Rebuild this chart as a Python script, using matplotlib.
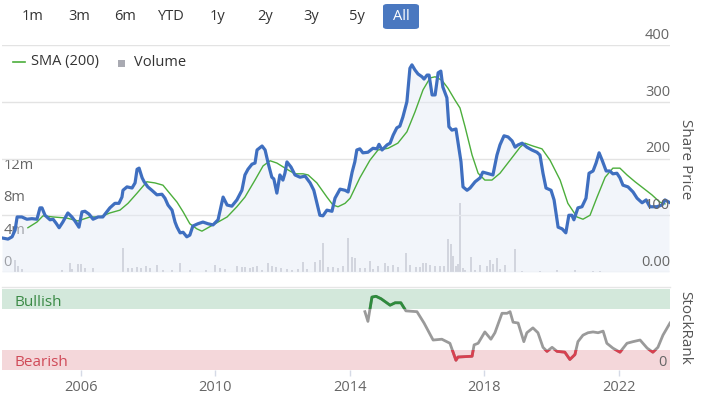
import numpy as np
import matplotlib
matplotlib.use('Agg')
import matplotlib.pyplot as plt
from matplotlib.patches import Rectangle, FancyBboxPatch
from matplotlib.lines import Line2D

plt.rcParams['font.family'] = ['Open Sans', 'DejaVu Sans']

# share price (blue line)
price_years = [2003.65, 2003.83, 2003.95, 2004.04, 2004.10, 2004.24, 2004.39, 2004.54, 2004.69, 2004.78,
               2004.84, 2004.93, 2005.08, 2005.17, 2005.26, 2005.35, 2005.46, 2005.61, 2005.73, 2005.82,
               2005.94, 2006.03, 2006.12, 2006.24, 2006.36, 2006.51, 2006.65, 2006.77, 2006.86, 2007.01,
               2007.13, 2007.22, 2007.25, 2007.37, 2007.52, 2007.61, 2007.67, 2007.73, 2007.82, 2007.88,
               2007.99, 2008.11, 2008.26, 2008.41, 2008.50, 2008.59, 2008.71, 2008.80, 2008.86, 2008.95,
               2009.04, 2009.15, 2009.24, 2009.33, 2009.48, 2009.63, 2009.78, 2009.93, 2010.08, 2010.23,
               2010.35, 2010.49, 2010.64, 2010.79, 2010.88, 2010.97, 2011.09, 2011.18, 2011.24, 2011.39,
               2011.48, 2011.57, 2011.68, 2011.74, 2011.83, 2011.92, 2012.01, 2012.07, 2012.13, 2012.25,
               2012.37, 2012.52, 2012.67, 2012.82, 2012.93, 2013.02, 2013.11, 2013.20, 2013.32, 2013.47,
               2013.56, 2013.71, 2013.86, 2013.95, 2014.07, 2014.15, 2014.21, 2014.30, 2014.39, 2014.54,
               2014.69, 2014.81, 2014.87, 2014.96, 2015.11, 2015.20, 2015.29, 2015.40, 2015.49, 2015.58,
               2015.70, 2015.79, 2015.85, 2015.94, 2016.03, 2016.15, 2016.21, 2016.30, 2016.36, 2016.45,
               2016.54, 2016.63, 2016.71, 2016.77, 2016.89, 2016.95, 2017.04, 2017.16, 2017.22, 2017.31,
               2017.37, 2017.49, 2017.58, 2017.73, 2017.88, 2017.96, 2018.08, 2018.26, 2018.38, 2018.47,
               2018.59, 2018.71, 2018.83, 2018.92, 2019.01, 2019.13, 2019.27, 2019.42, 2019.57, 2019.66,
               2019.75, 2019.84, 2019.99, 2020.08, 2020.20, 2020.32, 2020.43, 2020.52, 2020.61, 2020.67,
               2020.79, 2020.91, 2021.03, 2021.12, 2021.24, 2021.33, 2021.42, 2021.51, 2021.63, 2021.74,
               2021.83, 2021.95, 2022.04, 2022.13, 2022.28, 2022.43, 2022.55, 2022.70, 2022.82, 2022.93,
               2023.14, 2023.29, 2023.38, 2023.50]
price_values = [60, 58, 62, 74, 97, 97, 93, 94, 93, 113,
                113, 100, 92, 93, 86, 78, 88, 104, 97, 90,
                79, 106, 107, 102, 93, 97, 97, 106, 113, 121,
                121, 132, 144, 150, 148, 157, 181, 183, 166, 159,
                150, 144, 136, 137, 130, 118, 109, 88, 79, 69,
                70, 62, 65, 81, 85, 88, 85, 83, 92, 132,
                118, 116, 127, 144, 171, 181, 190, 192, 215, 222,
                215, 192, 167, 164, 139, 171, 162, 174, 194, 185,
                171, 167, 169, 157, 144, 122, 100, 99, 109, 107,
                130, 146, 144, 141, 176, 194, 215, 217, 210, 211,
                218, 217, 225, 215, 224, 227, 241, 254, 257, 273,
                300, 359, 365, 356, 349, 344, 340, 347, 347, 312,
                312, 351, 354, 326, 307, 256, 250, 252, 229, 194,
                150, 144, 148, 159, 166, 176, 174, 171, 206, 224,
                240, 238, 231, 220, 224, 227, 220, 215, 211, 206,
                174, 148, 144, 127, 79, 76, 69, 100, 100, 92,
                113, 115, 130, 174, 178, 192, 210, 197, 178, 178,
                173, 174, 166, 153, 150, 141, 130, 122, 127, 115,
                115, 118, 127, 123]

# 200-day moving average (green line)
sma_years = [2004.42, 2004.69, 2004.87, 2005.17, 2005.58, 2005.91, 2006.27, 2006.57, 2006.86, 2007.16,
             2007.40, 2007.67, 2007.96, 2008.20, 2008.44, 2008.65, 2008.86, 2009.04, 2009.24, 2009.45,
             2009.60, 2009.93, 2010.35, 2010.64, 2010.88, 2011.18, 2011.42, 2011.63, 2011.83, 2012.13,
             2012.37, 2012.61, 2012.76, 2013.02, 2013.32, 2013.50, 2013.65, 2013.86, 2014.01, 2014.30,
             2014.60, 2014.84, 2015.14, 2015.43, 2015.70, 2015.94, 2016.18, 2016.39, 2016.54, 2016.74,
             2016.92, 2017.13, 2017.28, 2017.43, 2017.64, 2017.82, 2018.02, 2018.23, 2018.47, 2018.77,
             2019.07, 2019.21, 2019.45, 2019.72, 2019.96, 2020.26, 2020.49, 2020.76, 2020.94, 2021.15,
             2021.36, 2021.60, 2021.83, 2022.04, 2022.25, 2022.49, 2022.73, 2022.99, 2023.23, 2023.38]
sma_values = [78, 88, 99, 97, 95, 90, 97, 97, 104, 109,
              121, 139, 159, 157, 153, 138, 123, 106, 85, 76,
              72, 83, 97, 115, 132, 162, 187, 196, 192, 181,
              173, 173, 171, 157, 132, 118, 115, 121, 130, 166,
              197, 215, 218, 227, 247, 282, 321, 342, 344, 338,
              324, 303, 289, 256, 206, 174, 162, 162, 174, 197,
              220, 227, 222, 217, 197, 162, 121, 97, 93, 100,
              132, 167, 183, 183, 171, 159, 148, 136, 123, 120]

# volume bars, millions of shares
vol_years = [2004.04, 2004.13, 2004.24, 2005.43, 2005.67, 2005.73, 2005.91, 2006.00, 2006.12, 2006.36,
             2007.25, 2007.40, 2007.52, 2007.67, 2007.79, 2007.93, 2008.05, 2008.26, 2008.44, 2008.71,
             2008.95, 2009.24, 2009.72, 2009.99, 2010.14, 2010.29, 2010.64, 2010.79, 2010.88, 2011.03,
             2011.12, 2011.24, 2011.39, 2011.57, 2011.68, 2011.80, 2011.95, 2012.13, 2012.28, 2012.46,
             2012.61, 2012.73, 2012.96, 2013.11, 2013.20, 2013.35, 2013.50, 2013.65, 2013.80, 2013.95,
             2014.07, 2014.15, 2014.30, 2014.45, 2014.60, 2014.69, 2014.84, 2015.05, 2015.14, 2015.29,
             2015.43, 2015.67, 2015.79, 2015.97, 2016.09, 2016.18, 2016.27, 2016.39, 2016.54, 2016.68,
             2016.80, 2016.92, 2017.01, 2017.07, 2017.16, 2017.22, 2017.28, 2017.37, 2017.43, 2017.61,
             2017.73, 2017.88, 2018.08, 2018.17, 2018.26, 2018.38, 2018.47, 2018.62, 2018.92, 2019.13,
             2019.66, 2020.17, 2020.70, 2021.24, 2021.45]
vol_millions = [1.45, 0.8, 0.4, 0.3, 1.1, 0.4, 1.0, 1.0, 0.5, 0.5,
                3.0, 0.5, 0.5, 0.6, 0.5, 0.8, 0.5, 0.9, 0.3, 0.3,
                1.1, 0.3, 0.3, 0.9, 0.5, 0.4, 0.8, 0.6, 0.6, 0.5,
                0.6, 0.8, 0.3, 1.1, 0.8, 0.6, 0.5, 0.4, 0.3, 0.4,
                1.2, 0.4, 1.2, 1.5, 3.6, 0.6, 0.6, 0.5, 0.7, 4.2,
                1.8, 1.7, 0.5, 0.5, 1.3, 0.4, 0.8, 1.1, 0.8, 0.9,
                0.6, 2.3, 0.9, 0.6, 0.6, 1.1, 1.1, 0.9, 0.8, 0.7,
                0.7, 4.1, 3.5, 2.0, 0.8, 1.0, 8.6, 0.5, 0.3, 1.8,
                0.3, 0.9, 0.8, 1.5, 1.0, 1.7, 0.4, 0.9, 2.8, 0.15,
                0.15, 0.2, 0.2, 0.15, 0.15]

# StockRank (0-100)
rank_years = [2014.45, 2014.54, 2014.66, 2014.78, 2014.93, 2015.20, 2015.35, 2015.52, 2015.67, 2016.00,
              2016.21, 2016.48, 2016.74, 2016.98, 2017.16, 2017.22, 2017.64, 2017.70, 2017.82, 2018.02,
              2018.20, 2018.32, 2018.53, 2018.68, 2018.77, 2018.86, 2019.01, 2019.18, 2019.27, 2019.45,
              2019.60, 2019.75, 2019.87, 2020.02, 2020.17, 2020.40, 2020.55, 2020.70, 2020.79, 2020.94,
              2021.09, 2021.24, 2021.39, 2021.54, 2021.65, 2021.83, 2022.04, 2022.25, 2022.43, 2022.64,
              2022.85, 2023.02, 2023.17, 2023.32, 2023.53]
rank_values = [72, 60, 90, 91, 88, 80, 83, 83, 73, 72,
               58, 37, 38, 33, 12, 16, 17, 31, 33, 47,
               38, 46, 70, 70, 72, 59, 58, 35, 46, 52,
               46, 28, 23, 28, 23, 22, 13, 19, 35, 43,
               46, 47, 46, 48, 33, 27, 22, 33, 35, 37,
               27, 22, 28, 43, 58]

range_buttons = ['1m', '3m', '6m', 'YTD', '1y', '2y', '3y', '5y', 'All']
price_ticks = [0, 100, 200, 300, 400]
price_labels = ['0.00', '100', '200', '300', '400']
vol_ticks = [0, 4, 8, 12]
vol_labels = ['0', '4m', '8m', '12m']
year_ticks = [2006, 2010, 2014, 2018, 2022]

W, H = 703, 394
fig = plt.figure(figsize=(W / 100, H / 100), dpi=100)


def box(l, t, r, b):
    return [l / W, 1 - b / H, (r - l) / W, (b - t) / H]


def ftext(x, y, s, **kw):
    return fig.text(x / W, 1 - y / H, s, **kw)


x0, x1 = 2003.65, 2023.53
label_col = '#666666'

# range selector
btn_x = [33, 79, 125, 171, 218, 265, 311, 357, 401]
for name, bx in zip(range_buttons, btn_x):
    if name == 'All':
        fig.patches.append(FancyBboxPatch(((bx - 18) / W, 1 - 29 / H), 36 / W, 25 / H,
                                          boxstyle='round,pad=0,rounding_size=0.006',
                                          transform=fig.transFigure, fc='#4a78c0', ec='none'))
        ftext(bx, 16, name, ha='center', va='center', color='white', fontsize=10.5)
    else:
        ftext(bx, 16, name, ha='center', va='center', color='#333333', fontsize=10.5)

# main price panel with volume underneath
axv = fig.add_axes(box(2, 45, 670, 272))
ax = fig.add_axes(box(2, 45, 670, 272))
ax.set_zorder(axv.get_zorder() + 1)
ax.patch.set_visible(False)

axv.set_xlim(x0, x1)
axv.set_ylim(0, 28.1)
axv.bar(vol_years, vol_millions, width=0.07, color='#c4c5cc', lw=0)
for v, lab in zip(vol_ticks, vol_labels):
    axv.annotate(lab, (0, v), xycoords=('axes fraction', 'data'), xytext=(1, 1.5),
                 textcoords='offset points', ha='left', va='bottom', color=label_col, fontsize=10.5)

ax.set_xlim(x0, x1)
ax.set_ylim(0, 400)
for t, lab in zip(price_ticks, price_labels):
    ax.axhline(t, color='#e3e3e3', lw=1, zorder=0)
    ax.annotate(lab, (1, t), xycoords=('axes fraction', 'data'), xytext=(0, 1.5),
                textcoords='offset points', ha='right', va='bottom', color=label_col, fontsize=10.5)
ax.fill_between(price_years, price_values, 0, color='#e4eaf6', alpha=0.45, lw=0)
ax.plot(sma_years, sma_values, color='#4cae3c', lw=1)
ax.plot(price_years, price_values, color='#3f6fc0', lw=2.3, solid_joinstyle='round')

for a in (ax, axv):
    for s in a.spines.values():
        s.set_visible(False)
    a.set_xticks([])
    a.set_yticks([])

# legend
fig.add_artist(Line2D([13 / W, 25 / W], [1 - 62 / H] * 2, color='#4cae3c', lw=1.2))
ftext(31, 62, 'SMA (200)', ha='left', va='center', color='#333333', fontsize=10.5)
fig.patches.append(Rectangle((118 / W, 1 - 67 / H), 7 / W, 7 / H, transform=fig.transFigure,
                             fc='#a9aab2', ec='none'))
ftext(134, 62, 'Volume', ha='left', va='center', color='#333333', fontsize=10.5)

ftext(685, 159, 'Share Price', rotation=-90, ha='center', va='center', color='#555555', fontsize=11)

# StockRank panel
fig.add_artist(Line2D([2 / W, 670 / W], [1 - 287 / H] * 2, color='#e6e6e6', lw=1))
axr = fig.add_axes(box(2, 289, 670, 370))
axr.set_xlim(x0, x1)
axr.set_ylim(0, 100)
axr.axhspan(75, 100, color='#d3e8db', lw=0)
axr.axhspan(0, 25, color='#f4d7da', lw=0)
axr.plot(rank_years, rank_values, color='#9a9a9a', lw=2)
for lo, hi, col in [(75, 100, '#2e8b3c'), (0, 25, '#d7404f')]:
    seg, = axr.plot(rank_years, rank_values, color=col, lw=2)
    seg.set_clip_path(Rectangle((x0, lo), x1 - x0, hi - lo, transform=axr.transData))
for s in axr.spines.values():
    s.set_visible(False)
axr.set_yticks([])
axr.set_xticks(year_ticks)
axr.set_xticklabels([str(y) for y in year_ticks])
axr.tick_params(axis='x', length=4.5, width=1, color='#d5dae6', labelcolor=label_col,
                labelsize=10.5, pad=3)

ftext(15, 302, 'Bullish', ha='left', va='center', color='#3a8a45', fontsize=11)
ftext(15, 362, 'Bearish', ha='left', va='center', color='#d04a58', fontsize=11)
ftext(667, 362, '0', ha='right', va='center', color=label_col, fontsize=10.5)
ftext(685, 328, 'StockRank', rotation=-90, ha='center', va='center', color='#555555', fontsize=11)

fig.savefig('out.png', dpi=100)
